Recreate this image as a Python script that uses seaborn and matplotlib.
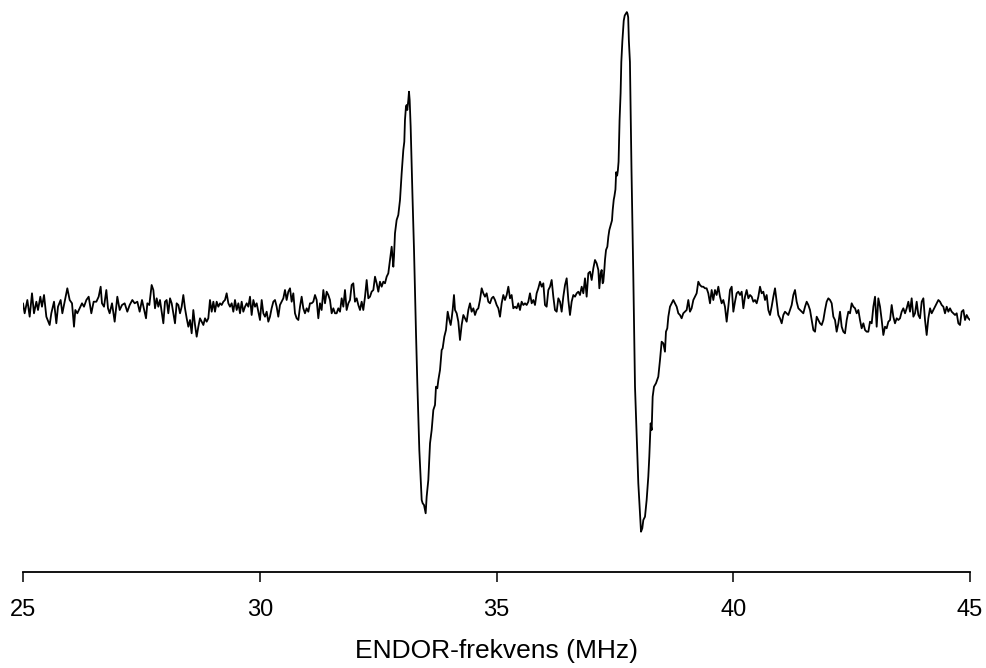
import numpy as np
import pandas as pd
import matplotlib
matplotlib.use("Agg")
import matplotlib.pyplot as plt
import seaborn as sns

# ENDOR spectrum (frequency in MHz, signal in arbitrary units)
freq_1 = [25.000, 25.035, 25.092, 25.141, 25.190, 25.232, 25.282, 25.317, 25.366, 25.401, 25.444, 25.493,
          25.563, 25.598, 25.655, 25.704, 25.739, 25.795, 25.831, 25.880, 25.936, 25.986, 26.035, 26.077,
          26.105, 26.147, 26.197, 26.246, 26.288, 26.338, 26.387, 26.443, 26.492, 26.549, 26.598, 26.640,
          26.668, 26.711, 26.760, 26.795, 26.830, 26.880, 26.936, 26.992, 27.042, 27.091, 27.147, 27.203,
          27.253, 27.309, 27.358, 27.415, 27.464, 27.513]
sig_1 = [0.67, -0.33, 1.0, -0.67, 1.67, -0.33, 0.83, 0.0, 1.33, 0.33, 1.5, -0.67,
         -1.5, -0.33, 0.83, -1.33, 0.33, 1.0, -0.33, 0.83, 2.17, 1.0, 0.67, -1.67,
         0.0, -0.33, 0.17, 0.67, 0.33, 1.0, 1.33, -0.33, 0.83, 0.83, 1.33, 2.33,
         0.67, 0.33, 2.0, 0.17, -0.33, 0.67, -1.17, 1.33, 0.0, 0.5, 0.67, -0.17,
         0.5, 1.0, 0.67, 0.83, -0.17, 1.0]

freq_2 = [27.598, 27.626, 27.668, 27.717, 27.753, 27.788, 27.823, 27.858, 27.893, 27.929, 27.964, 27.999,
          28.034, 28.069, 28.105, 28.140, 28.175, 28.210, 28.245, 28.281, 28.316, 28.351, 28.386, 28.421,
          28.457, 28.492, 28.527, 28.562, 28.597, 28.633, 28.668, 28.703, 28.738, 28.773, 28.809, 28.844,
          28.879, 28.914, 28.949, 28.985, 29.020, 29.055, 29.090, 29.125, 29.161, 29.196, 29.231, 29.266,
          29.301, 29.337, 29.372, 29.407, 29.442, 29.477, 29.513, 29.548, 29.583, 29.618, 29.653, 29.689,
          29.724, 29.759, 29.794, 29.829, 29.865, 29.900, 29.935, 29.970, 30.005, 30.041, 30.076]
sig_2 = [-0.83, 0.67, 0.5, 2.5, 2.0, 0.17, 1.17, 0.33, 1.0, -0.17, -1.33, 0.83,
         1.0, -0.33, 1.17, 0.67, -0.33, -1.33, 0.67, 0.5, -0.33, 0.33, 1.5, 0.17,
         -0.83, -1.67, -1.0, -2.33, 0.0, -1.5, -2.67, -1.67, -0.83, -1.17, -1.5, -0.83,
         -1.17, -0.83, 1.0, -0.17, 0.83, -0.17, 0.83, 0.33, 0.67, 0.5, 0.83, 1.0,
         1.67, 0.67, 0.33, 0.67, -0.17, 1.0, 0.0, 0.67, -0.33, 0.83, -0.17, 0.33,
         0.67, 0.33, 1.33, -0.5, 1.0, 0.33, 0.67, -0.17, -1.0, 1.0, -0.33]

freq_3 = [30.111, 30.146, 30.181, 30.216, 30.251, 30.287, 30.322, 30.357, 30.392, 30.427, 30.463, 30.498,
          30.533, 30.568, 30.603, 30.639, 30.674, 30.709, 30.744, 30.779, 30.815, 30.850, 30.885, 30.920,
          30.955, 30.991, 31.026, 31.061, 31.096, 31.131, 31.167, 31.202, 31.237, 31.272, 31.307, 31.343,
          31.378, 31.413, 31.448, 31.483, 31.519, 31.554, 31.589, 31.624, 31.659, 31.695, 31.730, 31.765,
          31.800, 31.835, 31.871, 31.906, 31.941, 31.976, 32.011, 32.047, 32.082, 32.117, 32.152, 32.187,
          32.223, 32.258, 32.293, 32.328, 32.363, 32.399, 32.434, 32.469, 32.504, 32.539, 32.575, 32.610,
          32.645]
sig_3 = [-0.67, -0.17, -1.17, -0.67, 0.17, 0.83, 1.0, 0.33, -0.67, 0.5, 0.83, 1.17,
         2.0, 1.0, 1.83, 2.17, 0.83, 1.67, -0.33, -0.83, -1.0, 0.33, 1.33, 0.17,
         -0.33, 0.17, -0.17, 0.67, 0.67, 0.83, 1.5, 1.0, -0.83, 0.67, 0.0, 2.0,
         0.67, 1.83, 1.5, 1.0, -0.33, 0.17, -0.33, -0.33, 0.17, -0.17, 1.17, 0.33,
         2.0, 0.0, 0.67, 1.0, 2.5, 2.67, 0.83, 1.17, 0.5, 0.0, 0.83, 0.0,
         1.33, 3.0, 1.17, 1.33, 1.83, 2.0, 3.33, 2.67, 1.83, 2.83, 2.33, 2.83,
         2.67]

# first line (rise, sharp drop, recovery)
freq_4 = [32.680, 32.715, 32.750, 32.786, 32.821, 32.835, 32.856, 32.891, 32.926, 32.962, 32.997, 33.032,
          33.053, 33.067, 33.088, 33.102, 33.116, 33.138, 33.152, 33.166, 33.187, 33.225, 33.258, 33.300,
          33.328, 33.370, 33.420, 33.441, 33.469, 33.504, 33.525, 33.560, 33.596, 33.631, 33.666, 33.701,
          33.722, 33.750, 33.772, 33.807, 33.842, 33.863, 33.898, 33.933, 33.969, 34.004, 34.032, 34.053,
          34.074, 34.102, 34.124, 34.159, 34.194, 34.229, 34.264, 34.300, 34.335, 34.370, 34.405, 34.440]
sig_4 = [3.33, 3.67, 5.0, 6.33, 4.33, 5.33, 7.67, 9.0, 9.5, 11.0, 13.67, 16.0,
         16.83, 19.0, 20.33, 20.5, 20.0, 21.0, 21.83, 21.0, 18.33, 11.5, 6.0, -2.33,
         -7.33, -14.0, -19.0, -19.33, -19.5, -20.33, -18.67, -17.0, -13.33, -12.0, -10.0, -9.5,
         -7.67, -7.83, -7.0, -6.0, -4.0, -3.83, -2.67, -2.0, -0.17, -1.0, -1.5, -0.83,
         0.0, 1.5, 0.0, -0.33, -1.17, -3.0, -1.5, -0.5, -0.83, -1.17, 0.0, 0.67]

freq_5 = [34.475, 34.511, 34.546, 34.581, 34.616, 34.651, 34.687, 34.722, 34.757, 34.792, 34.827, 34.863,
          34.898, 34.933, 34.968, 35.003, 35.039, 35.074, 35.109, 35.144, 35.179, 35.215, 35.250, 35.285,
          35.320, 35.355, 35.391, 35.426, 35.461, 35.496, 35.531, 35.567, 35.602, 35.637, 35.672, 35.707,
          35.743, 35.778, 35.813, 35.848, 35.883, 35.919, 35.954, 35.989, 36.024, 36.059, 36.095, 36.130,
          36.165, 36.200, 36.235, 36.271, 36.306, 36.341, 36.376, 36.411, 36.447, 36.482, 36.517, 36.552,
          36.587, 36.623, 36.658, 36.693, 36.728, 36.763, 36.799, 36.834, 36.869, 36.904, 36.939, 36.975]
sig_5 = [-0.17, 0.17, -0.5, 0.0, 0.17, 1.0, 2.17, 1.67, 1.33, 1.67, 0.83, 0.67,
         1.17, 1.33, 1.0, 0.5, 0.17, -0.67, 0.67, 1.5, 1.0, 1.5, 2.33, 1.17,
         1.5, 0.17, 0.33, 0.17, 0.67, 0.0, 0.83, 0.5, 0.67, 0.5, 0.83, 1.67,
         0.67, 1.0, 0.5, 1.67, 2.17, 2.83, 2.33, 2.67, 0.5, 0.33, 2.0, 2.33,
         3.0, 1.33, 0.0, -0.17, 1.17, 0.83, -0.17, 1.33, 2.5, 3.17, 1.0, -0.5,
         0.83, 1.5, 1.33, 1.67, 1.83, 1.5, 2.33, 1.67, 3.17, 1.33, 3.67, 3.83]

# second line (rise, sharp drop, recovery)
freq_6 = [37.010, 37.045, 37.080, 37.115, 37.151, 37.172, 37.200, 37.221, 37.242, 37.256, 37.277, 37.291,
          37.313, 37.341, 37.362, 37.383, 37.411, 37.439, 37.454, 37.476, 37.490, 37.512, 37.527, 37.548,
          37.563, 37.578, 37.599, 37.621, 37.636, 37.658, 37.687, 37.708, 37.730, 37.752, 37.767, 37.781,
          37.796, 37.818, 37.851, 37.889, 37.925, 37.961, 37.995, 38.030, 38.052]
sig_6 = [3.0, 4.17, 5.0, 4.67, 4.0, 2.17, 3.67, 4.0, 2.67, 2.83, 4.0, 5.0,
         6.0, 6.33, 7.33, 8.0, 8.5, 8.96, 9.99, 11.03, 11.37, 12.06, 13.78, 13.44,
         13.95, 14.82, 18.95, 21.70, 24.80, 26.87, 28.93, 29.45, 29.62, 29.79, 29.62, 29.28,
         26.87, 24.80, 14.0, 3.5, -7.67, -12.67, -17.33, -20.33, -22.17]

freq_7 = [38.079, 38.101, 38.136, 38.171, 38.206, 38.227, 38.255, 38.277, 38.298, 38.326, 38.368, 38.417,
          38.453, 38.488, 38.523, 38.558, 38.579, 38.607, 38.629, 38.664, 38.699, 38.734, 38.769, 38.805,
          38.840, 38.875, 38.910, 38.945, 38.981, 39.016, 39.051, 39.086, 39.121, 39.157, 39.192, 39.227,
          39.262, 39.297, 39.333, 39.368, 39.403, 39.438, 39.473, 39.509, 39.544, 39.579, 39.614, 39.649,
          39.685, 39.720, 39.755, 39.790, 39.825, 39.861, 39.896, 39.931]
sig_7 = [-21.83, -21.0, -20.67, -19.0, -16.67, -14.67, -11.33, -12.0, -8.67, -7.67, -7.33, -6.67,
         -5.0, -3.17, -3.33, -4.17, -2.17, -1.83, -0.67, 0.33, 0.67, 1.0, 0.67, 0.33,
         -0.33, -0.5, -0.83, -0.33, -0.17, 0.0, 1.0, -0.17, 0.17, 1.0, 1.33, 1.67,
         2.83, 2.5, 2.33, 2.33, 2.17, 2.17, 1.67, 0.67, 2.0, 1.0, 2.0, 1.5,
         2.33, 1.33, 0.67, 1.0, 0.33, -1.17, 0.33, 2.0]

freq_8 = [39.967, 40.002, 40.037, 40.072, 40.107, 40.143, 40.178, 40.213, 40.248, 40.283, 40.319, 40.354,
          40.389, 40.424, 40.459, 40.495, 40.530, 40.565, 40.600, 40.635, 40.671, 40.706, 40.741, 40.776,
          40.811, 40.847, 40.882, 40.917, 40.952, 40.987, 41.023, 41.058, 41.093, 41.128, 41.163, 41.199,
          41.234, 41.269, 41.304, 41.339, 41.375]
sig_8 = [2.33, -0.17, 0.83, 1.67, 1.83, 1.5, 1.83, 0.17, 1.33, 2.0, 1.17, 1.5,
         1.33, 0.83, 1.0, 0.67, 1.33, 2.33, 1.67, 1.83, 1.0, 1.5, 0.0, -0.5,
         0.33, 1.33, 2.17, 0.83, -0.5, -0.83, -1.33, -0.5, -0.17, -0.33, -0.5, 0.0,
         0.5, 1.5, 2.0, 0.83, 0.17]

freq_9 = [41.410, 41.445, 41.480, 41.516, 41.551, 41.586, 41.621, 41.656, 41.692, 41.727, 41.762, 41.797,
          41.832, 41.868, 41.903, 41.938, 41.973, 42.008, 42.044, 42.079, 42.114, 42.149, 42.184, 42.220,
          42.255, 42.290, 42.325, 42.360, 42.396, 42.431, 42.466, 42.501, 42.536, 42.572, 42.607, 42.642,
          42.677, 42.712, 42.748, 42.783, 42.818, 42.853, 42.888, 42.924, 42.959, 42.994, 43.029, 43.064,
          43.100, 43.135, 43.170, 43.205, 43.240, 43.276, 43.311, 43.346, 43.381, 43.416, 43.452, 43.487,
          43.522, 43.557, 43.592, 43.628, 43.663, 43.698, 43.733, 43.768, 43.804, 43.839, 43.874, 43.909,
          43.944, 43.980, 44.015, 44.050, 44.085, 44.120, 44.156, 44.191, 44.226, 44.261, 44.296, 44.332,
          44.367, 44.402, 44.437, 44.472, 44.508, 44.543, 44.578, 44.613, 44.648, 44.684, 44.719, 44.754,
          44.789, 44.824, 44.860, 44.895, 44.930, 44.965, 45.000]
sig_9 = [0.0, -0.17, -0.33, 0.33, 0.83, 0.5, 0.0, -1.0, -2.0, -2.17, -0.67, -1.0,
         -1.33, -1.5, -1.0, 0.0, 0.83, 1.17, 1.0, 0.67, -0.67, -1.0, -2.17, -1.33,
         -0.17, -1.67, -2.17, -2.33, -1.0, -0.17, -0.33, 0.67, 0.33, 0.17, -0.33, 0.0,
         -1.0, -1.83, -1.33, -2.0, -2.17, -2.17, -1.17, -1.33, 0.33, 1.33, -1.67, 1.17,
         0.33, -1.0, -2.5, -1.67, -1.83, -1.17, -1.0, 0.5, -0.67, -1.33, -0.83, -1.0,
         -0.83, -0.17, 0.17, -0.33, 0.17, 0.83, -0.17, 1.17, -0.67, -0.33, 0.83, -0.5,
         -0.83, 0.83, 1.17, -1.0, -2.5, -0.83, 0.17, -0.33, 0.0, 0.33, 0.67, 1.0,
         0.83, 0.5, 0.33, -0.33, 0.33, -0.17, 0.17, -0.17, -0.33, -0.5, -0.33, -1.33,
         -1.5, -0.17, 0.0, -1.0, -0.5, -0.83, -1.0]

xtick_values = [25, 30, 35, 40, 45]
xtick_labels = ["25", "30", "35", "40", "45"]
x_label = "ENDOR-frekvens (MHz)"

freq = np.concatenate([freq_1, freq_2, freq_3, freq_4, freq_5, freq_6, freq_7, freq_8, freq_9])
sig = np.concatenate([sig_1, sig_2, sig_3, sig_4, sig_5, sig_6, sig_7, sig_8, sig_9])
df = pd.DataFrame({"freq": freq, "sig": sig})

sns.set_theme(style="white")
plt.rcParams["font.family"] = ["Liberation Sans", "DejaVu Sans"]

fig = plt.figure(figsize=(9.86, 6.68), dpi=100)
ax = fig.add_axes([23 / 986, 96 / 668, 947 / 986, 572 / 668])
sns.lineplot(data=df, x="freq", y="sig", color="black", linewidth=1.3,
             estimator=None, sort=False, ax=ax)

ax.set_xlim(25, 45)
ax.set_ylim(-26.2, 31.0)
ax.set_xticks(xtick_values)
ax.set_xticklabels(xtick_labels)
ax.set_yticks([])
ax.set_ylabel("")
ax.set_xlabel(x_label, fontsize=19, labelpad=13, color="black")

for s in ["left", "right", "top"]:
    ax.spines[s].set_visible(False)
ax.spines["bottom"].set_color("black")
ax.spines["bottom"].set_linewidth(1.3)
ax.tick_params(axis="x", bottom=True, direction="out", length=7.5, width=1.1,
               color="black", labelsize=17, labelcolor="black", pad=12)

fig.savefig("out.png", dpi=100)
